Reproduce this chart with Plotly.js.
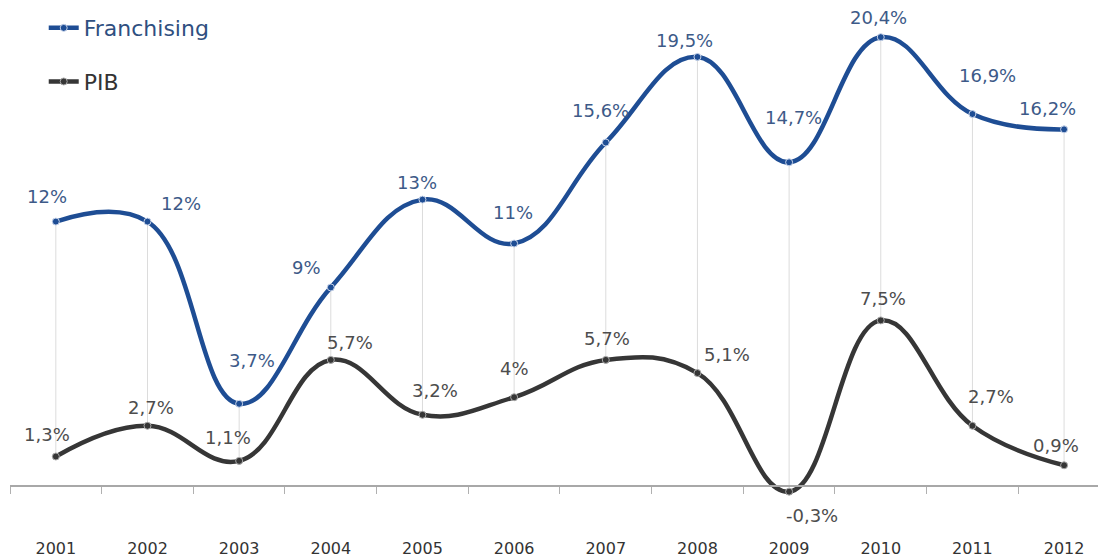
<!DOCTYPE html>
<html>
<head>
<meta charset="utf-8">
<script src="https://cdn.plot.ly/plotly-3.0.1.min.js"></script>
<style>html,body{margin:0;padding:0;background:#fff;}#chart{width:1098px;height:558px;}</style>
</head>
<body>
<div id="chart"></div>
<script>
// ---- data ----
const years = ["2001","2002","2003","2004","2005","2006","2007","2008","2009","2010","2011","2012"];
const franchising = [12, 12, 3.7, 9, 13, 11, 15.6, 19.5, 14.7, 20.4, 16.9, 16.2];
const pib = [1.3, 2.7, 1.1, 5.7, 3.2, 4, 5.7, 5.1, -0.3, 7.5, 2.7, 0.9];
const seriesNames = ["Franchising", "PIB"];

// ---- label offsets (pixels, style only) ----
const franchDx = [-9, 34, 13, -24, -5, -1, -5, -13, 4, -2, 15, -17];
const franchDy = [25, 18, 43, 20, 17, 31, 32, 16, 45, 20, 39, 21];
const pibDx = [-9, 4, -11, 19, 13, 0, 1, 30, 23, 2, 19, -8];
const pibDy = [22, 18, 23, 17, 24, 29, 21, 19, -24, 22, 29, 20];

const blue = "#1e4d94";
const dark = "#363636";
const blueText = "#3d5a88";
const darkText = "#4d4d4d";
const fontFam = "DejaVu Sans, Verdana, sans-serif";

const fmt = v => String(v).replace('.', ',') + '%';

// drop lines between the two series
const dropX = [], dropY = [];
years.forEach((y, i) => { dropX.push(y, y, null); dropY.push(franchising[i], pib[i], null); });

const traces = [
  {x: dropX, y: dropY, mode: "lines", line: {color: "#dcdcdc", width: 1}, hoverinfo: "skip", showlegend: false},
  {x: years, y: franchising, name: '<span style="color:#2f4f80">' + seriesNames[0] + '</span>',
   mode: "lines+markers", line: {color: blue, width: 4.5, shape: "spline", smoothing: 1.2},
   marker: {color: blue, size: 7, line: {color: "#c8d4ea", width: 1}}, legendgroup: "a", cliponaxis: false},
  {x: years, y: pib, name: '<span style="color:#333">' + seriesNames[1] + '</span>',
   mode: "lines+markers", line: {color: dark, width: 4.5, shape: "spline", smoothing: 1.2},
   marker: {color: dark, size: 7, line: {color: "#aaa", width: 1}}, legendgroup: "b", cliponaxis: false}
];

const annotations = [];
years.forEach((y, i) => {
  annotations.push({x: i, y: franchising[i], xref: "x", yref: "y", text: fmt(franchising[i]), showarrow: false,
    xanchor: "center", yanchor: "middle",
    xshift: franchDx[i], yshift: franchDy[i], font: {family: fontFam, size: 18, color: blueText}});
  annotations.push({x: i, y: pib[i], xref: "x", yref: "y", text: fmt(pib[i]), showarrow: false,
    xanchor: "center", yanchor: "middle",
    xshift: pibDx[i], yshift: pibDy[i], font: {family: fontFam, size: 18, color: darkText}});
});

const yMin = -1, yMax = 21.5;
const layout = {
  width: 1098, height: 558,
  margin: {l: 10, r: 0, t: 13, b: 51, autoexpand: false},
  paper_bgcolor: "#fff", plot_bgcolor: "#fff",
  showlegend: true,
  legend: {x: 0.031, y: 1.012, xanchor: "left", yanchor: "top",
    font: {family: fontFam, size: 22}, tracegroupgap: 22, traceorder: "grouped", bgcolor: "rgba(0,0,0,0)"},
  xaxis: {type: "category", range: [-0.5, 11.37], anchor: "free", position: (0 - yMin) / (yMax - yMin),
    showline: true, linecolor: "#a8a8a8", linewidth: 1.5, ticks: "outside", ticklen: 7, tickcolor: "#b0b0b0",
    tickson: "boundaries", showgrid: false, zeroline: false, ticklabelstandoff: 48,
    tickfont: {family: fontFam, size: 16, color: "#333"}},
  yaxis: {range: [yMin, yMax], visible: false, showgrid: false, zeroline: false},
  annotations: annotations
};

Plotly.newPlot("chart", traces, layout, {displayModeBar: false, staticPlot: true});
</script>
</body>
</html>
